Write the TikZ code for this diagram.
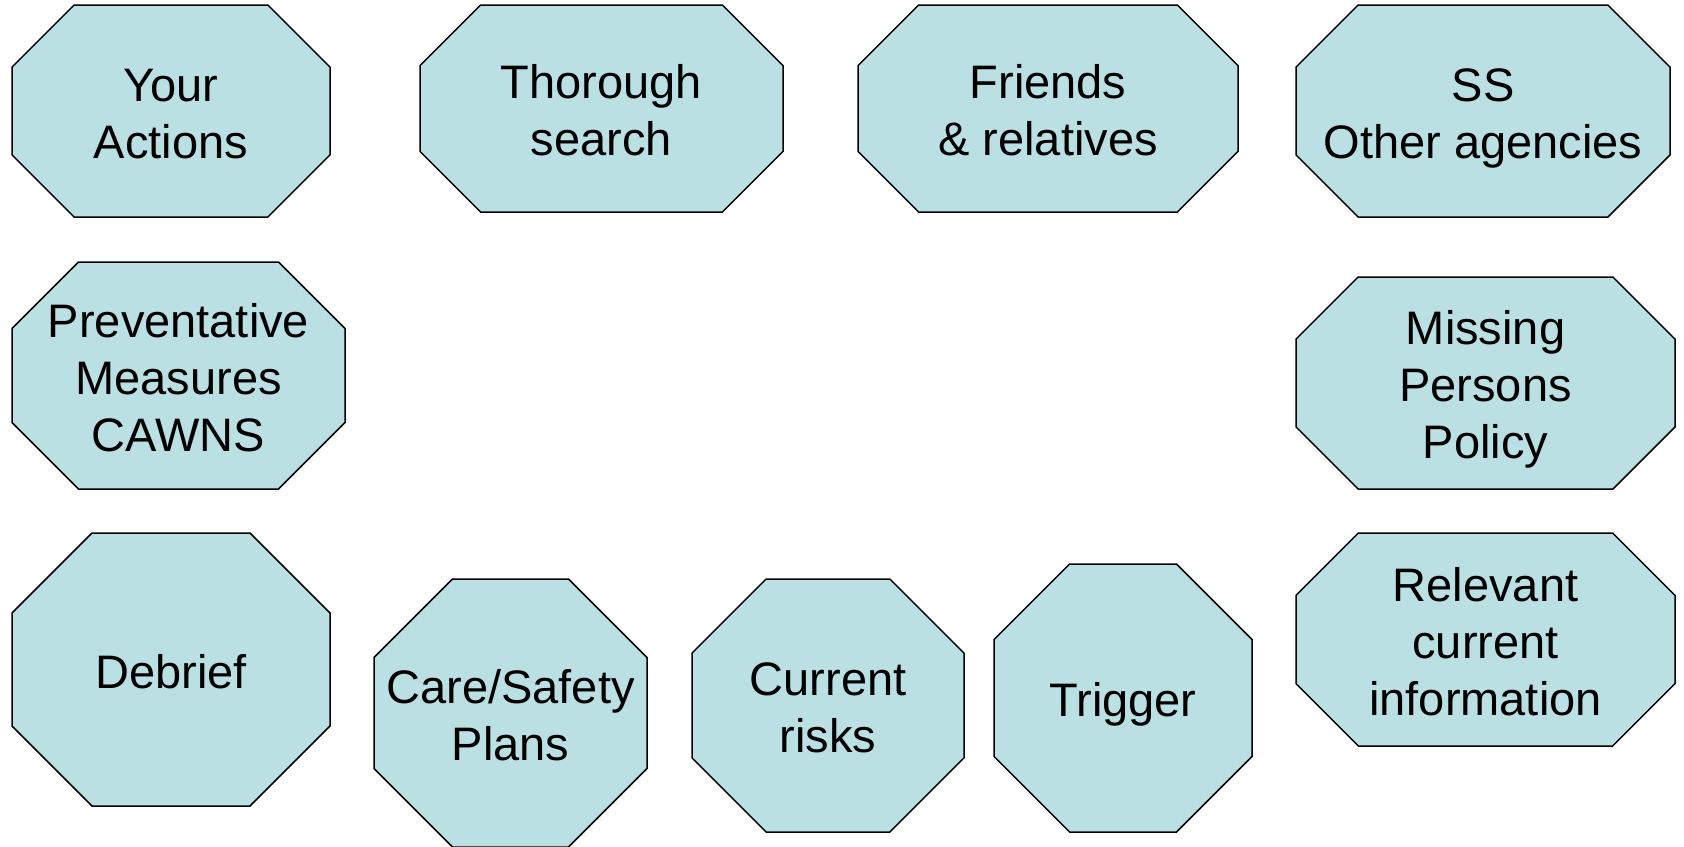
\documentclass[tikz,border=0pt]{standalone}
\usepackage{fontspec}
\setmainfont{Liberation Sans}
\usepackage{xcolor}
\definecolor{octfill}{RGB}{187,224,227}
\usepackage{tikz}
\usetikzlibrary{calc}
\newcommand{\octstrut}{\rule[-5pt]{0pt}{28.5pt}}
\tikzstyle{octshape} = [draw=black, fill=octfill, line width=0.75pt, line join=miter]
\tikzstyle{octlabel} = [align=center, inner sep=0pt, font=\fontsize{23.5}{28.5}\selectfont]
% octagon from its box: name, left, top, right, bottom, text
\newcommand{\octbox}[6]{%
  \pgfmathsetmacro{\octcut}{0.2929*min(#4-#2,#5-#3)}
  \filldraw[octshape] (#2+\octcut,#3) -- (#4-\octcut,#3) -- (#4,#3+\octcut)
    -- (#4,#5-\octcut) -- (#4-\octcut,#5) -- (#2+\octcut,#5)
    -- (#2,#5-\octcut) -- (#2,#3+\octcut) -- cycle;
  \node[octlabel] (#1) at ({(#2+#4)/2},{(#3+#5)/2}) {\octstrut#6\octstrut};
}

\begin{document}
\begin{tikzpicture}[x=0.5pt, y=-0.5pt]
    \useasboundingbox (0,0) rectangle (1684,846);

    % top row
    \octbox{actions}{12}{5}{330}{217}{Your\\Actions}
    \octbox{search}{420}{5}{783}{212}{Thorough\\search}
    \octbox{friends}{858}{5}{1238}{212}{Friends\\\& relatives}
    \octbox{agencies}{1296}{5}{1670}{217}{SS\\Other agencies}

    % middle row
    \octbox{measures}{12}{262}{345}{489}{Preventative\\Measures\\CAWNS}
    \octbox{policy}{1296}{277}{1675}{489}{Missing\\Persons\\Policy}

    % bottom row
    \octbox{debrief}{12}{533}{330}{806}{Debrief}
    \octbox{plans}{374}{579}{647}{847}{Care/Safety\\Plans}
    \octbox{risks}{692}{579}{964}{832}{Current\\risks}
    \octbox{trigger}{994}{564}{1252}{832}{Trigger}
    \octbox{info}{1296}{533}{1675}{746}{Relevant\\current\\information}
\end{tikzpicture}
\end{document}
